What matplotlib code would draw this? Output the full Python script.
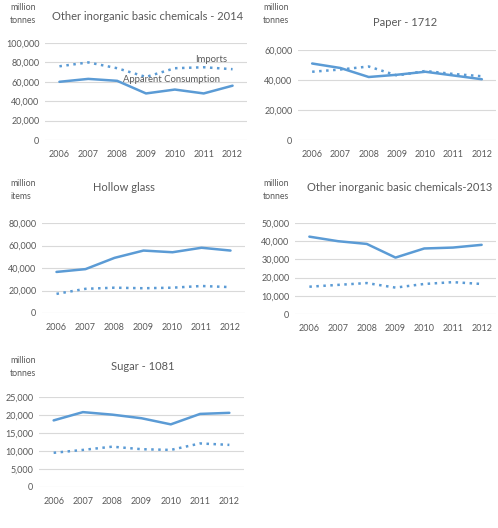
import matplotlib
matplotlib.use("Agg")
import matplotlib.pyplot as plt
from matplotlib.ticker import FuncFormatter

plt.rcParams['font.family'] = ['Lato', 'DejaVu Sans']

years = ['2006', '2007', '2008', '2009', '2010', '2011', '2012']

chem2014_consumption = [60000, 63000, 61000, 48000, 52000, 48000, 56000]
chem2014_imports = [76000, 80000, 74000, 65000, 74000, 75000, 73000]

paper_consumption = [51000, 48000, 42000, 43500, 45500, 43000, 40500]
paper_imports = [45500, 47000, 49000, 43000, 46000, 44000, 42500]

glass_consumption = [36500, 39000, 49000, 55500, 54000, 58000, 55500]
glass_imports = [17000, 21500, 22500, 22000, 22500, 24000, 23000]

chem2013_consumption = [42500, 40000, 38500, 31000, 36000, 36500, 38000]
chem2013_imports = [15000, 16000, 17000, 14500, 16500, 17500, 16500]

sugar_consumption = [18500, 20800, 20100, 19100, 17400, 20300, 20600]
sugar_imports = [9500, 10300, 11200, 10500, 10300, 12100, 11700]

W, H = 498, 528
BLUE = '#5B9BD5'
GREY = '#595959'
GRID = '#D9D9D9'

fig = plt.figure(figsize=(W / 100, H / 100), dpi=100)


def panel(left, right, top, bottom, ymax, ystep, cons, imp, title, title_xy, unit, unit_xy):
    ax = fig.add_axes([left / W, 1 - bottom / H, (right - left) / W, (bottom - top) / H])
    x = range(len(years))
    ax.plot(x, cons, color=BLUE, lw=1.8, solid_capstyle='round')
    ax.plot(x, imp, color=BLUE, lw=1.8, ls=(0, (1, 1.8)))
    ax.set_xlim(-0.5, len(years) - 0.5)
    ax.set_ylim(0, ymax)
    ax.set_yticks(range(0, ymax + 1, ystep))
    ax.yaxis.set_major_formatter(FuncFormatter(lambda v, p: f'{int(v):,}'))
    ax.set_xticks(list(x))
    ax.set_xticklabels(years)
    ax.grid(axis='y', color=GRID, lw=0.8)
    ax.set_axisbelow(True)
    for s in ax.spines.values():
        s.set_visible(False)
    ax.tick_params(length=0, colors=GREY, labelsize=6.5)
    ax.tick_params(axis='x', pad=7)
    ax.tick_params(axis='y', pad=4)
    fig.text(title_xy[0] / W, 1 - title_xy[1] / H, title, ha='center', va='center',
             color=GREY, fontsize=8)
    fig.text(unit_xy[0] / W, 1 - unit_xy[1] / H, unit, ha='left', va='center',
             color=GREY, fontsize=6.3, linespacing=1.55)
    return ax


ax1 = panel(45, 247, 43, 140, 100000, 20000, chem2014_consumption, chem2014_imports,
            'Other inorganic basic chemicals - 2014', (148, 17), 'million\ntonnes', (10, 14))
ax1.text(5.25, 83500, 'Imports', color=GREY, fontsize=6.8, ha='center', va='center')
ax1.text(3.9, 62000, 'Apparent Consumption', color=GREY, fontsize=6.8, ha='center', va='center')

panel(298, 496, 50, 140, 60000, 20000, paper_consumption, paper_imports,
      'Paper - 1712', (405, 23), 'million\ntonnes', (263, 14))

panel(42, 245, 223, 313, 80000, 20000, glass_consumption, glass_imports,
      'Hollow glass', (124, 187), 'million\nitems', (10, 190))

panel(295, 496, 223, 314, 50000, 10000, chem2013_consumption, chem2013_imports,
      'Other inorganic basic chemicals-2013', (400, 187), 'million\ntonnes', (263, 190))

panel(39, 244, 397, 487, 25000, 5000, sugar_consumption, sugar_imports,
      'Sugar - 1081', (143, 366), 'million\ntonnes', (10, 367))

fig.savefig('out.png', dpi=100, facecolor='white')
